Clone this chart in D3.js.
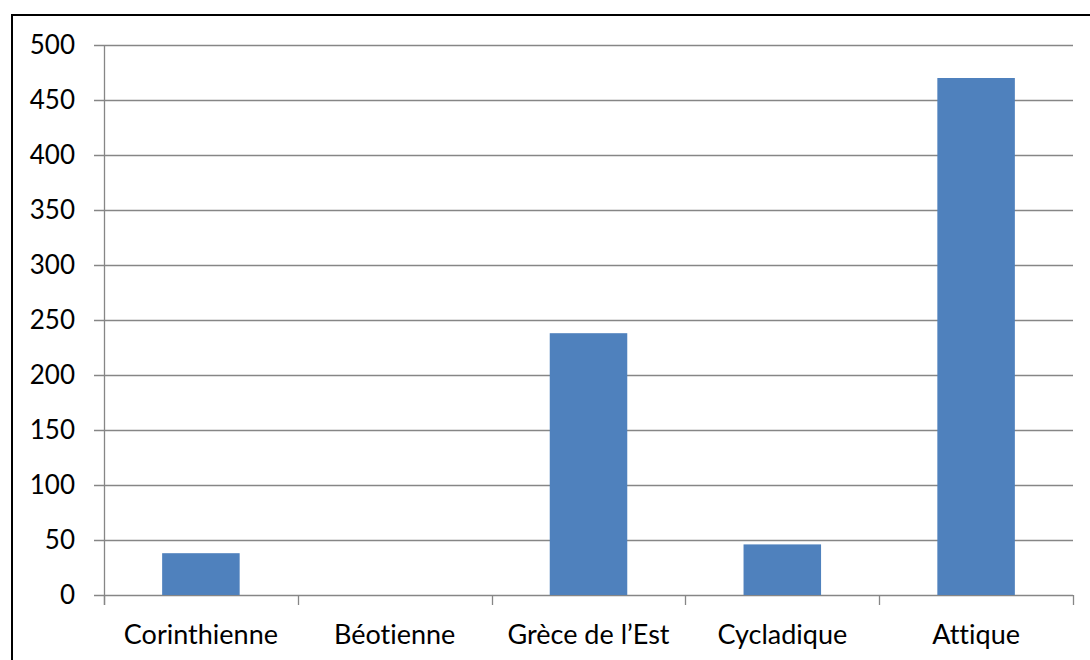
<!DOCTYPE html>
<html>
<head>
<meta charset="utf-8">
<script src="https://cdn.jsdelivr.net/npm/d3@7"></script>
<style>
  body { margin: 0; background: #fff; }
  svg text { font-family: Lato, "Liberation Sans", sans-serif; fill: #000; font-variant-ligatures: none; }
</style>
</head>
<body>
<div id="chart"></div>
<script>
// categories and values
var categories = ["Corinthienne", "Béotienne", "Grèce de l\u2019Est", "Cycladique", "Attique"];
var values = [38, 0, 238, 46, 470];
var yTicks = [0, 50, 100, 150, 200, 250, 300, 350, 400, 450, 500];

var W = 1090, H = 660;
var margin = {top: 45, right: 17, bottom: 65, left: 104},
    width = W - margin.left - margin.right,
    height = H - margin.top - margin.bottom;

var root = d3.select("#chart").append("svg")
    .attr("width", W)
    .attr("height", H);

// outer frame
root.append("rect")
    .attr("x", 12).attr("y", 15)
    .attr("width", W + 20).attr("height", H + 20)
    .attr("fill", "none")
    .attr("stroke", "#000")
    .attr("stroke-width", 2);

var svg = root.append("g")
    .attr("transform", "translate(" + margin.left + "," + margin.top + ")");

var data = categories.map(function(c, i) { return {name: c, value: values[i]}; });

var x = d3.scaleBand()
    .domain(categories)
    .range([0, width])
    .paddingInner(0.6)
    .paddingOuter(0.3);

var y = d3.scaleLinear()
    .domain([0, 500])
    .range([height, 0]);

// gridlines
svg.append("g")
    .selectAll("line")
    .data(yTicks).enter()
    .append("line")
    .attr("x1", -10)
    .attr("x2", width)
    .attr("y1", function(d) { return Math.round(y(d)) + 0.5; })
    .attr("y2", function(d) { return Math.round(y(d)) + 0.5; })
    .attr("stroke", "#868686")
    .attr("stroke-width", 1.3);

// y labels
svg.append("g")
    .selectAll("text")
    .data(yTicks).enter()
    .append("text")
    .attr("x", -29)
    .attr("y", function(d) { return y(d); })
    .attr("dy", "0.36em")
    .attr("text-anchor", "end")
    .style("font-size", "26px")
    .text(function(d) { return d; });

// y axis line
svg.append("line")
    .attr("x1", 0.5).attr("x2", 0.5)
    .attr("y1", 0).attr("y2", height + 10)
    .attr("stroke", "#868686")
    .attr("stroke-width", 1.3);

// category ticks
var step = x.step();
svg.append("g")
    .selectAll("line")
    .data(d3.range(categories.length + 1)).enter()
    .append("line")
    .attr("x1", function(i) { return Math.round(i * step) + 0.5; })
    .attr("x2", function(i) { return Math.round(i * step) + 0.5; })
    .attr("y1", height)
    .attr("y2", height + 10)
    .attr("stroke", "#868686")
    .attr("stroke-width", 1.3);

// bars
svg.append("g")
    .selectAll("rect")
    .data(data).enter()
    .append("rect")
    .attr("x", function(d) { return x(d.name); })
    .attr("y", function(d) { return y(d.value); })
    .attr("width", x.bandwidth())
    .attr("height", function(d) { return height - y(d.value); })
    .attr("fill", "#4F81BD");

// category labels
svg.append("g")
    .selectAll("text")
    .data(categories).enter()
    .append("text")
    .attr("x", function(d) { return x(d) + x.bandwidth() / 2; })
    .attr("y", height + 49)
    .attr("text-anchor", "middle")
    .style("font-size", "27px")
    .text(function(d) { return d; });
</script>
</body>
</html>
